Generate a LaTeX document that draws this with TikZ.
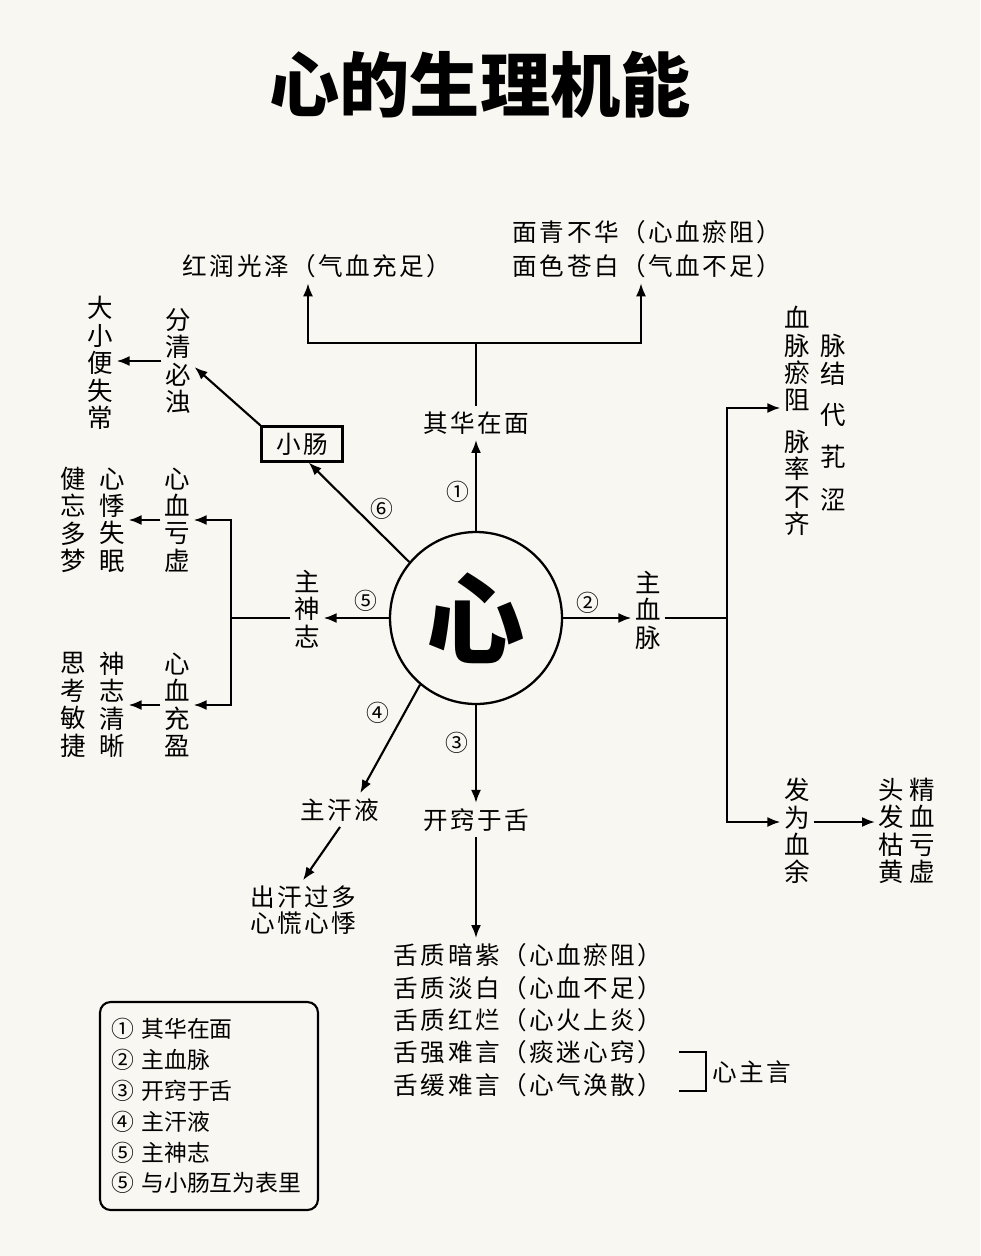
\documentclass[tikz,border=0pt]{standalone}
\usepackage{fontspec}
\setmainfont{Noto Sans CJK SC}
\newfontfamily\cjkwide{Noto Sans CJK SC}[LetterSpace=10]
\usetikzlibrary{arrows.meta}
\definecolor{paper}{RGB}{249,247,241}
\tikzset{
  arr/.style={-{Latex[length=2.6mm,width=2mm]},line width=1.2pt},
  ln/.style={line width=1.2pt},
  lbl/.style={font=\cjkwide\fontsize{14pt}{18pt}\selectfont,inner sep=3pt},
  vcol/.style={align=center,inner sep=2pt,font=\fontsize{14.5pt}{15.6pt}\selectfont},
  num/.style={font=\fontsize{13pt}{15pt}\selectfont,inner sep=1pt},
}
\begin{document}
\begin{tikzpicture}[x=0.02cm,y=-0.02cm]
  \fill[paper] (0,0) rectangle (980,1256);
  \useasboundingbox (0,0) rectangle (980,1256);
  \node[font=\fontsize{40pt}{42pt}\selectfont\bfseries] (title) at (480,85) {心的生理机能};
  % ---- centre ----
  \node[circle,draw,line width=1.3pt,minimum size=3.44cm,inner sep=0pt,
    font=\fontsize{56pt}{60pt}\selectfont\bfseries] (xin) at (476,618) {心};
  % ---- 1: up ----
  \node[lbl] (qihua) at (476,423) {其华在面};
  \draw[arr] (xin.north) -- (qihua.south);
  \node[num] (n1) at (458,492) {①};
  \node[lbl] (hongrun) at (317,266) {红润光泽（气血充足）};
  \node[lbl,align=left,font=\cjkwide\fontsize{14pt}{19.3pt}\selectfont] (mianse) at (647,249)
    {面青不华（心血瘀阻）\\面色苍白（气血不足）};
  \coordinate (tl) at (308,343);
  \coordinate (tr) at (641,343);
  \draw[arr] (qihua.north) |- (tl) -- (tl |- hongrun.south);
  \draw[arr] (qihua.north |- tr) -- (tr) -- (tr |- mianse.south);
  % ---- 2: right ----
  \node[vcol] (zhuxuemai) at (648,610) {主\\血\\脉};
  \draw[arr] (xin.east) -- (xin.east -| zhuxuemai.west);
  \node[num] (n2) at (588,603) {②};
  \coordinate (rj) at (727,618);
  \coordinate (rtop) at (727,408);
  \coordinate (rbot) at (727,822);
  \draw[ln] (xin.east -| zhuxuemai.east) -- (rj);
  \node[vcol] (xuemai) at (797,359) {血\\脉\\瘀\\阻};
  \node[vcol] (mailv) at (797,483) {脉\\率\\不\\齐};
  \node[vcol] (maijie) at (833,360) {脉\\结};
  \node[vcol] (dai) at (833,415) {代};
  \node[vcol] (kou) at (833,457) {芤};
  \node[vcol] (se) at (833,500) {涩};
  \draw[arr] (rj) -- (rtop) -- (rtop -| xuemai.west);
  \node[vcol] (fawei) at (797,831) {发\\为\\血\\余};
  \node[vcol] (toufa) at (907,831) {头\hspace{3pt}精\\发\hspace{3pt}血\\枯\hspace{3pt}亏\\黄\hspace{3pt}虚};
  \draw[arr] (rj) -- (rbot) -- (rbot -| fawei.west);
  \draw[arr] (rbot -| fawei.east) -- (rbot -| toufa.west);
  % ---- 3: down ----
  \node[lbl] (kaiqiao) at (476,820) {开窍于舌};
  \draw[arr] (xin.south) -- (kaiqiao.north);
  \node[num] (n3) at (457,743) {③};
  \node[lbl,align=left,font=\cjkwide\fontsize{14pt}{18.4pt}\selectfont] (shezhi) at (528,1020)
    {舌质暗紫（心血瘀阻）\\舌质淡白（心血不足）\\舌质红烂（心火上炎）\\舌强难言（痰迷心窍）\\舌缓难言（心气涣散）};
  \draw[arr] (kaiqiao.south) -- (kaiqiao.south |- shezhi.north);
  \coordinate (bt) at (679,1052);
  \coordinate (bb) at (679,1091);
  \draw[ln] (bt) -- ++(27,0) |- (bb);
  \node[lbl] (xinzhuyan) at (752,1072) {心主言};
  % ---- 4: lower left ----
  \node[lbl] (zhuhanye) at (340,810) {主汗液};
  \draw[arr] (xin.230) -- (zhuhanye.40);
  \node[num] (n4) at (378,713) {④};
  \node[lbl,align=center,font=\cjkwide\fontsize{14pt}{14.5pt}\selectfont] (chuhan) at (303,910) {出汗过多\\心慌心悸};
  \draw[arr] (zhuhanye.south) -- (chuhan.north);
  % ---- 5: left ----
  \node[vcol] (zhushenzhi) at (307,609) {主\\神\\志};
  \draw[arr] (xin.west) -- (xin.west -| zhushenzhi.east);
  \node[num] (n5) at (366,601) {⑤};
  \coordinate (lj) at (231,618);
  \draw[ln] (xin.west -| zhushenzhi.west) -- (lj);
  \node[vcol] (kuixu) at (177,520) {心\\血\\亏\\虚};
  \node[vcol] (chongying) at (177,705) {心\\血\\充\\盈};
  \draw[arr] (lj) |- (kuixu.east);
  \draw[arr] (lj) |- (chongying.east);
  \node[vcol] (xinji) at (112,520) {心\\悸\\失\\眠};
  \node[vcol] (jianwang) at (73,520) {健\\忘\\多\\梦};
  \draw[arr] (kuixu.west) -- (xinji.east);
  \node[vcol] (shenzhi) at (112,705) {神\\志\\清\\晰};
  \node[vcol] (sikao) at (73,705) {思\\考\\敏\\捷};
  \draw[arr] (chongying.west) -- (shenzhi.east);
  % ---- 6: small intestine ----
  \node[lbl,draw,line width=1.2pt,minimum width=1.62cm,minimum height=0.7cm] (xiaochang) at (302,444) {小肠};
  \draw[arr] (xin.140) -- (xiaochang.290);
  \node[num] (n6) at (382,509) {⑥};
  \node[vcol] (fenqing) at (178,361) {分\\清\\必\\浊};
  \node[vcol] (daxiaobian) at (100,363) {大\\小\\便\\失\\常};
  \draw[arr] (xiaochang.north west) -- (fenqing.-20);
  \draw[arr] (fenqing.west) -- (fenqing.west -| daxiaobian.east);
  % ---- legend ----
  \node[draw,line width=1.2pt,rounded corners=6pt,align=left,inner sep=0.22cm,text width=3.92cm,
    minimum height=4.16cm,font=\fontsize{13pt}{17.6pt}\selectfont] (legend) at (209,1106)
    {① 其华在面\\② 主血脉\\③ 开窍于舌\\④ 主汗液\\⑤ 主神志\\⑤ 与小肠互为表里};
\end{tikzpicture}
\end{document}
